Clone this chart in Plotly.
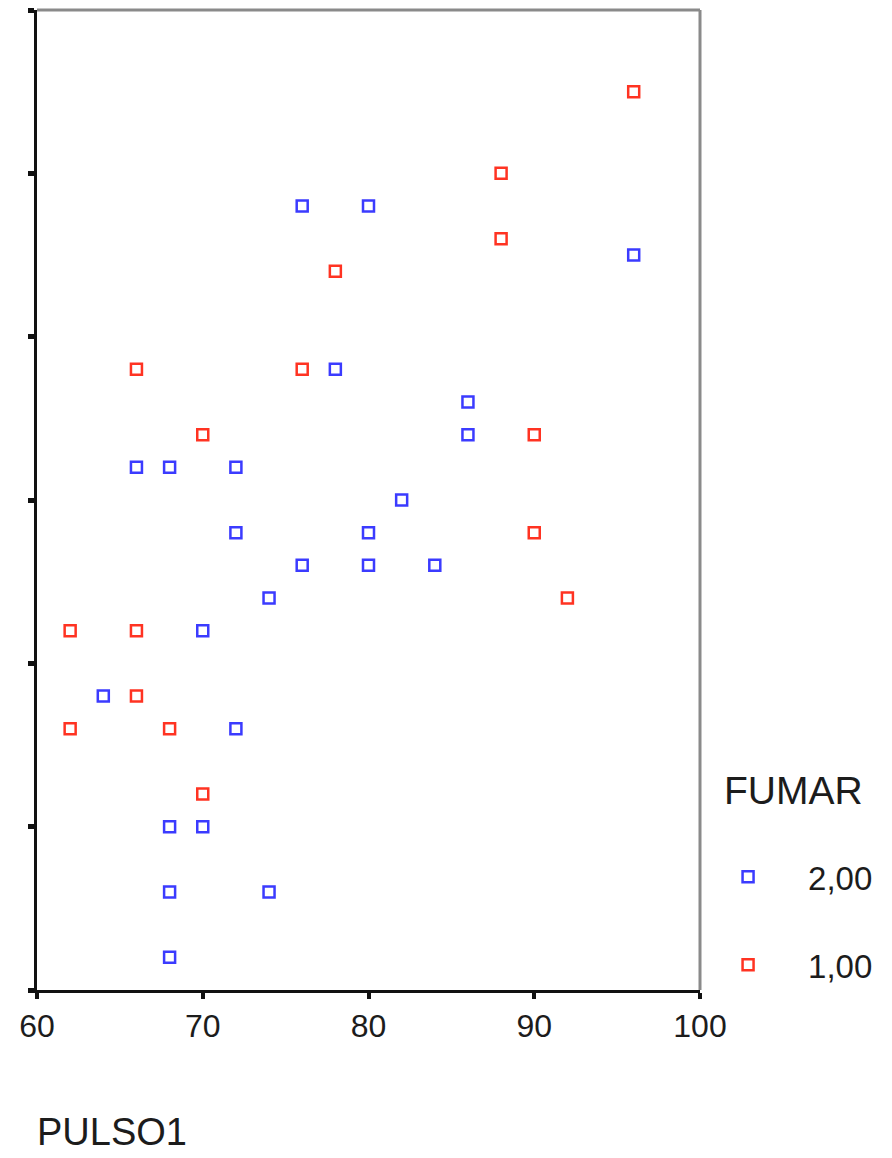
import plotly.graph_objects as go

# PULSO1 (x) and PULSO2 (y) readings, split by FUMAR group
pulso1_fumar2 = [76, 80, 96, 78, 86, 86, 66, 68, 72, 82, 72, 80, 76, 80, 84, 74, 70, 64, 72, 68, 70, 68, 74, 68]
pulso2_fumar2 = [98, 98, 95, 88, 86, 84, 82, 82, 82, 80, 78, 78, 76, 76, 76, 74, 72, 68, 66, 60, 60, 56, 56, 52]

pulso1_fumar1 = [96, 88, 88, 78, 66, 76, 70, 90, 90, 92, 62, 66, 66, 62, 68, 70]
pulso2_fumar1 = [105, 100, 96, 94, 88, 88, 84, 84, 78, 74, 72, 72, 68, 66, 66, 62]

group_labels = ["2,00", "1,00"]
group_colors = ["#3b3bff", "#ff3322"]

x_ticks = [60, 70, 80, 90, 100]
y_ticks = [50, 60, 70, 80, 90, 100, 110]

FONT = "Liberation Sans, Arial, sans-serif"
TEXT = "#1c1c1c"

fig = go.Figure()
for xs, ys, name, col, grp in [
    (pulso1_fumar2, pulso2_fumar2, group_labels[0], group_colors[0], "g2"),
    (pulso1_fumar1, pulso2_fumar1, group_labels[1], group_colors[1], "g1"),
]:
    fig.add_trace(go.Scatter(
        x=xs, y=ys, mode="markers", name=name, legendgroup=grp,
        marker=dict(symbol="square-open", size=11, color=col,
                    line=dict(width=2.5, color=col)),
    ))

fig.update_layout(
    width=892, height=1158,
    margin=dict(l=37, r=192, t=10, b=168),
    paper_bgcolor="white", plot_bgcolor="white",
    font=dict(family=FONT, color=TEXT),
    showlegend=True,
    legend=dict(
        x=0.982, xanchor="left", y=0.144, yanchor="top",
        itemwidth=110, tracegroupgap=42,
        font=dict(size=33, family=FONT, color=TEXT),
        bgcolor="rgba(0,0,0,0)",
    ),
    xaxis=dict(
        range=[60, 100], tickvals=x_ticks, ticktext=[str(v) for v in x_ticks],
        showgrid=False, zeroline=False,
        showline=True, linecolor="#111", linewidth=3,
        ticks="outside", ticklen=6, tickwidth=4, tickcolor="#111",
        tickfont=dict(size=32, family=FONT, color=TEXT),
    ),
    yaxis=dict(
        range=[50, 110], tickvals=y_ticks,
        showgrid=False, zeroline=False, showticklabels=False,
        showline=True, linecolor="#111", linewidth=3,
        ticks="outside", ticklen=6, tickwidth=5, tickcolor="#111",
    ),
    shapes=[
        dict(type="line", xref="paper", yref="paper", x0=0, x1=1, y0=1, y1=1,
             line=dict(color="#8a8a8a", width=3)),
        dict(type="line", xref="paper", yref="paper", x0=1, x1=1, y0=0, y1=1,
             line=dict(color="#8a8a8a", width=3)),
    ],
    annotations=[
        dict(text="FUMAR", xref="paper", yref="paper", x=1.0335, y=0.204,
             xanchor="left", yanchor="middle", showarrow=False,
             font=dict(size=39, family=FONT, color=TEXT)),
        dict(text="PULSO1", xref="paper", yref="paper", x=-0.003, y=-0.1449,
             xanchor="left", yanchor="middle", showarrow=False,
             font=dict(size=38, family=FONT, color=TEXT)),
    ],
)

fig.write_html("out.html")
